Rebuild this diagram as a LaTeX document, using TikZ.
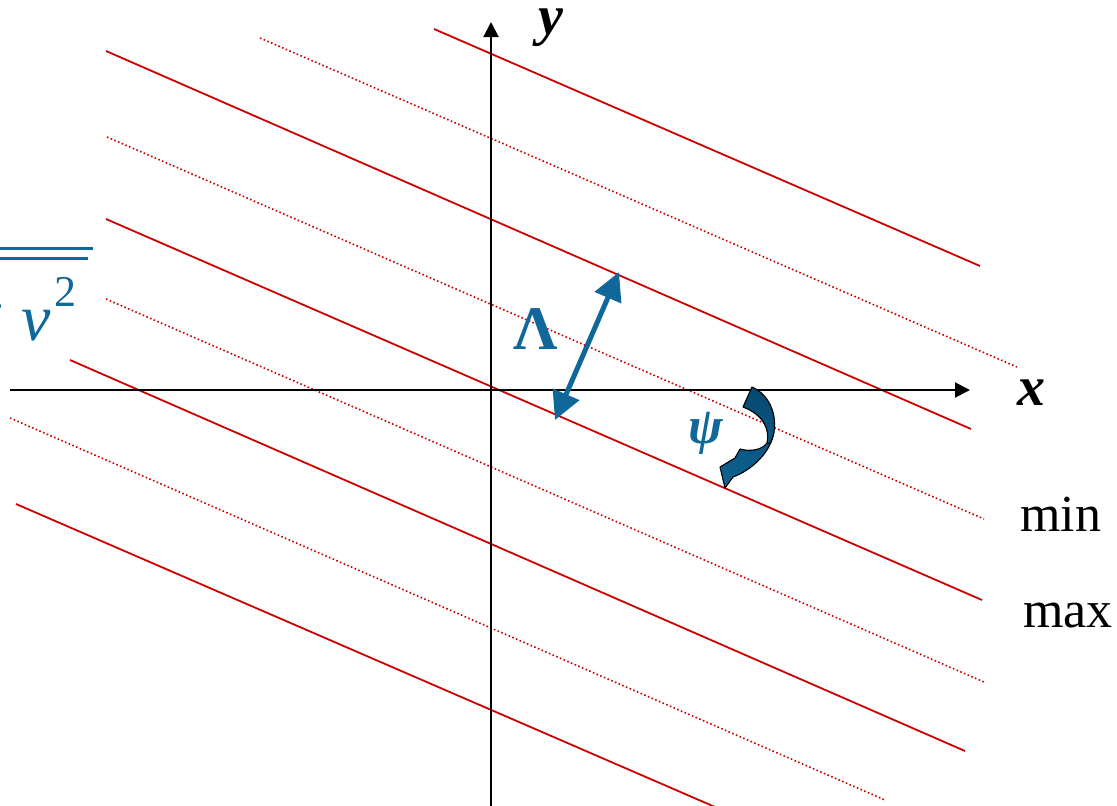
\documentclass[tikz,border=0pt]{standalone}
\usepackage{fontspec}
\setmainfont{Liberation Serif}
\usetikzlibrary{arrows.meta}
\definecolor{wred}{RGB}{204,0,0}
\definecolor{wblue}{RGB}{16,104,154}
\definecolor{wdark}{RGB}{6,72,112}
\definecolor{wmid}{RGB}{14,98,146}
\begin{document}
\begin{tikzpicture}[x=1pt,y=-1pt,
  crest/.style={wred,line width=1.8pt},
  trough/.style={wred,line width=1.6pt,dash pattern=on 1.6pt off 2.4pt},
  axisline/.style={black,line width=2pt,-{Triangle[length=15pt,width=15pt]}},
  lbl/.style={inner sep=0pt,font=\fontsize{56}{56}\selectfont\bfseries\itshape},
  plain/.style={inner sep=0pt,font=\fontsize{52}{52}\selectfont},
  bluetxt/.style={inner sep=0pt,text=wblue},
  barline/.style={wblue,line width=3.2pt}
]
\useasboundingbox (0,0) rectangle (1117,806);
\clip (0,0) rectangle (1117,806);

% wave fronts: solid (max)
\draw[crest] (434,29) -- (980,266);
\draw[crest] (106,51) -- (971,429);
\draw[crest] (106,219) -- (982,600);
\draw[crest] (70,360) -- (965,751);
\draw[crest] (16,504) -- (722,810);
% wave fronts: dotted (min)
\draw[trough] (260,38) -- (1017,367);
\draw[trough] (107,137) -- (984,519);
\draw[trough] (106,299) -- (984,682);
\draw[trough] (10,418) -- (885,800);

% axes
\coordinate (xs) at (10,390);
\coordinate (xe) at (970,390);
\coordinate (ys) at (491,810);
\coordinate (ye) at (491,22);
\draw[axisline] (xs) -- (xe);
\draw[axisline] (ys) -- (ye);
\node[lbl] (xl) at (1031,393) {x};
\node[lbl] (yl) at (551,28) {y};

% wavelength arrow
\coordinate (la) at (555,420);
\coordinate (lb) at (619,272);
\draw[wblue,line width=5pt,{Triangle[length=28pt,width=28pt]}-{Triangle[length=28pt,width=28pt]}] (la) -- (lb);
\node[bluetxt,font=\fontsize{62}{62}\selectfont\bfseries] (lam) at (536,329) {Λ};

% psi curved arrow
\filldraw[draw=black,line width=1.1pt,line join=round,top color=wdark,bottom color=wmid]
  (743,407) -- (752,387)
  .. controls (768,394) and (777,412) .. (774,432)
  .. controls (771,452) and (752,470) .. (733,477)
  -- (725,488) -- (720,467) -- (735,458) -- (740,449)
  .. controls (750,452) and (762,450) .. (767,443)
  .. controls (770,430) and (764,415) .. cycle;
\draw[black,line width=0.8pt] (767,443) .. controls (770,446) and (772,440) .. (774,432);
\node[bluetxt,font=\fontsize{52}{52}\selectfont\bfseries\itshape] (psi) at (706,433) {ψ};

% labels min / max
\node[plain,anchor=base west] (min) at (1020,531) {min};
\node[plain,anchor=base west] (max) at (1023,627) {max};

% cut-off formula at the left edge
\draw[barline] (-5,248.3) -- (93,248.3);
\draw[barline] (-5,258.7) -- (88,258.7);
\node[bluetxt,anchor=base east,font=\fontsize{66}{66}\selectfont] (fplus) at (5,328) {+};
\node[bluetxt,anchor=base west,font=\fontsize{66}{66}\selectfont\itshape] (fv) at (21,340) {v};
\node[bluetxt,anchor=base west,font=\fontsize{44}{44}\selectfont] (ftwo) at (54,306) {2};
\end{tikzpicture}
\end{document}
